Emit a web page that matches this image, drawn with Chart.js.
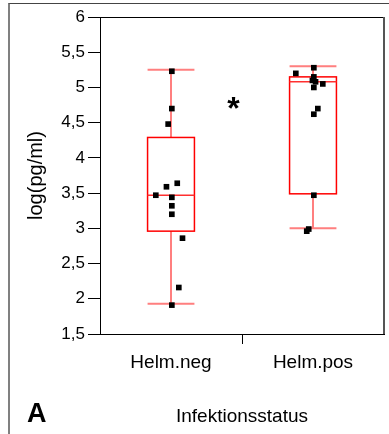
<!DOCTYPE html>
<html>
<head>
<meta charset="utf-8">
<script src="https://cdn.jsdelivr.net/npm/chart.js@4"></script>
<style>
  html, body { margin: 0; padding: 0; background: #fff; }
  #wrap { position: relative; width: 389px; height: 434px; }
  #frame {
    position: absolute; left: 8px; top: 3px; right: 0; bottom: 0;
    border-left: 2px solid #808080; border-top: 1px solid #444;
  }
  canvas { position: absolute; left: 0; top: 0; }
</style>
</head>
<body>
<div id="wrap">
  <div id="frame"></div>
  <canvas id="chart" width="389" height="434"></canvas>
</div>
<script>
// ============================================================
// Data
// ============================================================
const groups = ["Helm.neg", "Helm.pos"];

// box summary per group
const whiskerLow = [1.93, 3.0];
const quartile1 = [2.96, 3.49];
const medians = [3.47, 5.08];
const quartile3 = [4.29, 5.15];
const whiskerHigh = [5.25, 5.30];

// individual measurements (x = jittered group position)
const negX = [0.506, 0.506, 0.480, 0.544, 0.468, 0.393, 0.506, 0.506, 0.506, 0.581, 0.555, 0.506];
const negY = [5.23, 4.70, 4.48, 3.64, 3.59, 3.47, 3.44, 3.32, 3.20, 2.86, 2.16, 1.91];
const posX = [1.506, 1.379, 1.506, 1.496, 1.518, 1.569, 1.506, 1.534, 1.506, 1.506, 1.470, 1.456];
const posY = [5.28, 5.20, 5.15, 5.10, 5.08, 5.05, 5.00, 4.70, 4.62, 3.47, 2.99, 2.96];

const yTicks = [1.5, 2, 2.5, 3, 3.5, 4, 4.5, 5, 5.5, 6];

// significance marker position
const sigX = 0.94;
const sigY = 4.78;

// ============================================================
// Helpers
// ============================================================
const FONT = "'Liberation Sans', Arial, sans-serif";
const BOX_W = 0.33; // box width in group units
const fmtComma = (v) => String(v).replace(".", ",");
const toPoints = (xs, ys) => xs.map((x, i) => ({ x, y: ys[i] }));

// boxes, whiskers, medians + frame lines + labels
const boxPlugin = {
  id: "boxes",
  beforeDatasetsDraw(chart) {
    const { ctx, chartArea, scales: { x, y } } = chart;
    const half = x.getPixelForValue(BOX_W / 2) - x.getPixelForValue(0);
    ctx.save();
    groups.forEach((g, i) => {
      const cx = x.getPixelForValue(i + 0.5);
      const yLo = y.getPixelForValue(whiskerLow[i]);
      const yQ1 = y.getPixelForValue(quartile1[i]);
      const yMed = y.getPixelForValue(medians[i]);
      const yQ3 = y.getPixelForValue(quartile3[i]);
      const yHi = y.getPixelForValue(whiskerHigh[i]);

      // whiskers + caps
      ctx.strokeStyle = "#ff7f7f";
      ctx.lineWidth = 2;
      ctx.beginPath();
      ctx.moveTo(cx, yQ3); ctx.lineTo(cx, yHi);
      ctx.moveTo(cx, yQ1); ctx.lineTo(cx, yLo);
      ctx.moveTo(cx - half, yHi); ctx.lineTo(cx + half, yHi);
      ctx.moveTo(cx - half, yLo); ctx.lineTo(cx + half, yLo);
      ctx.stroke();

      // box
      ctx.strokeStyle = "#ff0000";
      ctx.lineWidth = 1.5;
      ctx.strokeRect(cx - half, yQ3, half * 2, yQ1 - yQ3);

      // median
      ctx.strokeStyle = "#ff3030";
      ctx.beginPath();
      ctx.moveTo(cx - half, yMed); ctx.lineTo(cx + half, yMed);
      ctx.stroke();
    });

    // top and right frame of the plot
    ctx.lineWidth = 1;
    ctx.strokeStyle = "#000";
    ctx.beginPath();
    ctx.moveTo(chartArea.left, chartArea.top + 0.5);
    ctx.lineTo(chartArea.right, chartArea.top + 0.5);
    ctx.stroke();
    ctx.strokeStyle = "#555";
    ctx.lineWidth = 2;
    ctx.beginPath();
    ctx.moveTo(chartArea.right, chartArea.top);
    ctx.lineTo(chartArea.right, chartArea.bottom);
    ctx.stroke();
    ctx.restore();
  },
  afterDraw(chart) {
    const { ctx, scales: { x, y } } = chart;
    ctx.save();
    ctx.fillStyle = "#000";
    ctx.textAlign = "center";
    ctx.textBaseline = "middle";
    ctx.font = `bold 32px ${FONT}`;
    ctx.fillText("*", x.getPixelForValue(sigX), y.getPixelForValue(sigY) + 7);
    ctx.textAlign = "left";
    ctx.font = `bold 27px ${FONT}`;
    ctx.fillText("A", 27, 415);
    ctx.restore();
  },
};

// ============================================================
// Chart
// ============================================================
new Chart(document.getElementById("chart"), {
  type: "scatter",
  data: {
    datasets: [
      { data: toPoints(negX, negY), backgroundColor: "#000", pointStyle: "rect", pointRadius: 4, borderWidth: 0 },
      { data: toPoints(posX, posY), backgroundColor: "#000", pointStyle: "rect", pointRadius: 4, borderWidth: 0 },
    ],
  },
  options: {
    responsive: false,
    animation: false,
    layout: { padding: { top: 17, right: 5, left: 0, bottom: 0 } },
    plugins: { legend: { display: false }, tooltip: { enabled: false } },
    scales: {
      x: {
        type: "linear",
        min: 0,
        max: 2,
        afterBuildTicks: (s) => { s.ticks = [{ value: 0.5 }, { value: 1 }, { value: 1.5 }]; },
        afterFit: (s) => { s.height = 100; },
        ticks: {
          autoSkip: false,
          maxRotation: 0,
          padding: 7,
          color: "#000",
          font: { family: FONT, size: 19 },
          callback: (v) => (v === 0.5 ? groups[0] : v === 1.5 ? groups[1] : ""),
        },
        grid: {
          drawOnChartArea: false,
          tickLength: 10,
          color: (c) => (c.tick && c.tick.value === 1 ? "#000" : "rgba(0,0,0,0)"),
        },
        border: { display: true, color: "#000", width: 1 },
        title: {
          display: true,
          text: "Infektionsstatus",
          color: "#000",
          font: { family: FONT, size: 19 },
          padding: { top: 0, bottom: 6 },
        },
      },
      y: {
        min: 1.5,
        max: 6,
        afterBuildTicks: (s) => { s.ticks = yTicks.map((v) => ({ value: v })); },
        afterFit: (s) => { s.width = 100; },
        ticks: {
          padding: 3,
          color: "#000",
          font: { family: FONT, size: 17 },
          callback: (v) => fmtComma(v),
        },
        grid: { drawOnChartArea: false, tickLength: 12, color: "#000" },
        border: { display: true, color: "#000", width: 1 },
        title: {
          display: true,
          text: "log(pg/ml)",
          color: "#000",
          font: { family: FONT, size: 20 },
          padding: { top: 24, bottom: 0 },
        },
      },
    },
  },
  plugins: [boxPlugin],
});
</script>
</body>
</html>
